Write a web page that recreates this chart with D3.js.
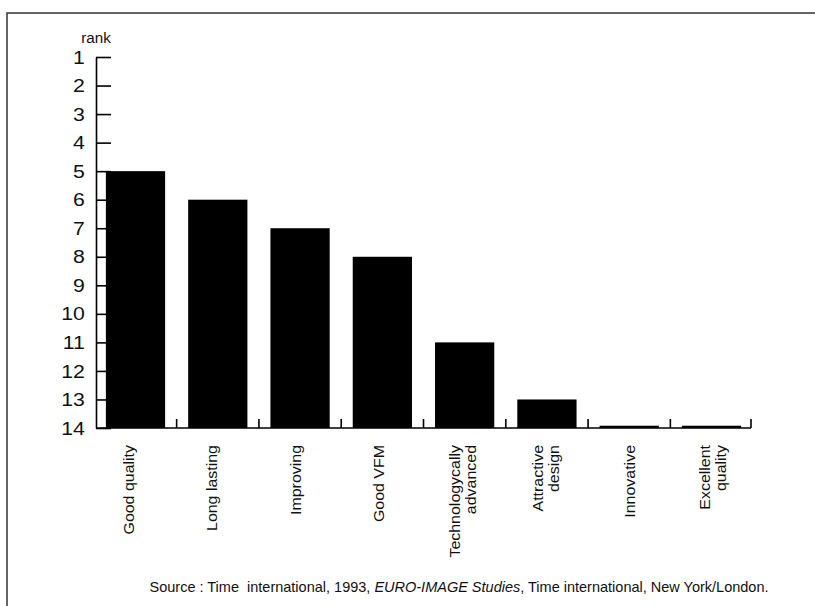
<!DOCTYPE html>
<html>
<head>
<meta charset="utf-8">
<script src="https://cdn.jsdelivr.net/npm/d3@7"></script>
<style>
  html, body { margin: 0; padding: 0; background: #fff; }
  svg { display: block; }
  text { font-family: "Liberation Sans", Arial, sans-serif; fill: #111; }
</style>
</head>
<body>
<svg id="chart" width="815" height="606"></svg>
<script>
// ---- data ----
const categories = [
  ["Good quality"],
  ["Long lasting"],
  ["Improving"],
  ["Good VFM"],
  ["Technologycally", "advanced"],
  ["Attractive", "design"],
  ["Innovative"],
  ["Excellent", "quality"]
];
const ranks = [5, 6, 7, 8, 11, 13, 13.92, 13.92];
const rankTicks = [1,2,3,4,5,6,7,8,9,10,11,12,13,14];
const axisTitle = "rank";
const sourceParts = [
  {t: "Source : Time  international, 1993, ", i: false},
  {t: "EURO-IMAGE Studies", i: true},
  {t: ", Time international, New York/London.", i: false}
];

// ---- drawing ----
const svg = d3.select("#chart");
const keys = categories.map(c => c.join(" "));

// frame (top and left edges)
svg.append("path")
  .attr("d", "M7,606 V13 H815")
  .attr("fill", "none").attr("stroke", "#333").attr("stroke-width", 1.5);

const y = d3.scaleLinear().domain([1, 14]).range([57, 428]);
const x = d3.scaleBand().domain(keys).range([96, 751]).paddingInner(0.28).paddingOuter(0.12);
const xl = d3.scaleBand().domain(keys).range([96, 764]);

// bars
svg.append("g").selectAll("rect").data(ranks).join("rect")
  .attr("x", (d, i) => x(keys[i]))
  .attr("y", d => y(d))
  .attr("width", x.bandwidth())
  .attr("height", d => y(14) - y(d))
  .attr("fill", "#000");

// y axis
const yAxis = d3.axisLeft(y).tickValues(rankTicks).tickSize(-15).tickSizeOuter(0).tickPadding(10);
const gy = svg.append("g").attr("transform", "translate(96,0)").call(yAxis);
gy.select(".domain").attr("stroke", "#000").attr("stroke-width", 1.6);
gy.selectAll(".tick line").attr("stroke", "#000").attr("stroke-width", 1.6);
gy.selectAll(".tick text")
  .attr("font-size", 19)
  .attr("font-family", "Liberation Sans, Arial, sans-serif")
  .attr("fill", "#111")
  .attr("transform", "scale(1.12,1)");

svg.append("text")
  .attr("x", 96).attr("y", 43)
  .attr("text-anchor", "middle")
  .attr("font-size", 14.5)
  .attr("transform", "translate(96,0) scale(1.05,1) translate(-96,0)")
  .text(axisTitle);

// x axis line and separators
const gx = svg.append("g");
gx.append("line")
  .attr("x1", x.range()[0]).attr("x2", x.range()[1])
  .attr("y1", y(14)).attr("y2", y(14))
  .attr("stroke", "#000").attr("stroke-width", 1.6);
const seps = keys.map((k, i) => i < keys.length - 1
  ? x(k) + x.bandwidth() + (x(keys[i + 1]) - x(k) - x.bandwidth()) / 2
  : x.range()[1]);
gx.selectAll("line.sep").data(seps).join("line")
  .attr("class", "sep")
  .attr("x1", d => d).attr("x2", d => d)
  .attr("y1", y(14)).attr("y2", y(14) - 9)
  .attr("stroke", "#000").attr("stroke-width", 1.6);

// category labels (rotated)
const labels = svg.append("g").selectAll("text").data(categories).join("text")
  .attr("transform", (d, i) => `translate(${xl(keys[i]) + xl.bandwidth() / 2},445) rotate(-90) scale(1.1,1)`)
  .attr("text-anchor", "end")
  .attr("font-size", 14.5);
labels.each(function(d) {
  const t = d3.select(this);
  const n = d.length;
  d.forEach((line, j) => {
    t.append("tspan")
      .attr("x", 0)
      .attr("y", -4 + (j - (n - 1) / 2) * 16)
      .text(line);
  });
});

// source
const src = svg.append("text")
  .attr("x", 459).attr("y", 592)
  .attr("text-anchor", "middle")
  .attr("font-size", 14.5)
  .style("white-space", "pre");
sourceParts.forEach(p => {
  src.append("tspan").attr("font-style", p.i ? "italic" : "normal").text(p.t);
});
</script>
</body>
</html>
